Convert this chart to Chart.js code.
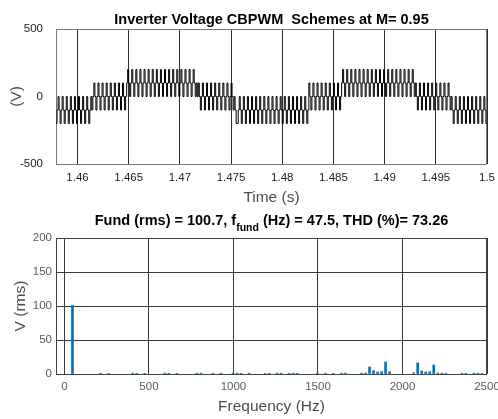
<!DOCTYPE html>
<html>
<head>
<meta charset="utf-8">
<script src="https://cdn.jsdelivr.net/npm/chart.js@4.4.0/dist/chart.umd.min.js"></script>
<style>
  html, body { margin: 0; padding: 0; background: #fff; }
  #wrap { position: relative; width: 498px; height: 419px; overflow: hidden; }
  .panel { position: absolute; left: 0; width: 498px; }
  #top { top: 0; height: 210px; }
  #bottom { top: 210px; height: 209px; }
</style>
</head>
<body>
<div id="wrap">
  <div class="panel" id="top"><canvas id="wave" width="498" height="210"></canvas></div>
  <div class="panel" id="bottom"><canvas id="fft" width="498" height="209"></canvas></div>
</div>
<script>
// ---- data ----
const timeTicks = [1.46, 1.465, 1.47, 1.475, 1.48, 1.485, 1.49, 1.495, 1.5];
const timeTickLabels = ['1.46', '1.465', '1.47', '1.475', '1.48', '1.485', '1.49', '1.495', '1.5'];
const voltTicks = [-500, 0, 500];

// inverter output levels, code 0..4
const levelVolts = [-200, -100, 0, 100, 200];
const tStart = 1.457895; // two fundamental cycles before 1.5 s
const tStep = 0.0001;    // one level code per 0.1 ms
const waveCodes = [
  '01210121012101210121' + '0121012101210121',                                   // 0 / -100 / -200
  '2',
  '32123212321232123212' + '32123212' + '321',                                   // +100 / 0 / -100
  '23',
  '43234323432343234323' + '43234323432343234323' + '43234323432343234323' + '43234323', // +200 / +100 / 0
  '2',
  '32123212321232123212' + '321232123212' + '32',
  '1210',
  '01210121012101210121' + '01210121012101210121' + '01210121012101210121' + '01210121' + '0',
  '1',
  '32123212321232123212' + '32123212' + '321',
  '23',
  '43234323432343234323' + '43234323432343234323' + '43234323432343234323' + '43234323' + '432',
  '3',
  '21232123212321232123' + '212321232123' + '21',
  '2',
  '10121012101210121012' + '101210121012' + '10'
];

const freqTicks = [0, 500, 1000, 1500, 2000, 2500];
const vrmsTicks = [0, 50, 100, 150, 200];
const harmFreq = [
  47.5,
  213.75, 261.25, 403.75, 427.5, 475, 593.75, 617.5, 665, 783.75, 807.5,
  878.75, 926.25, 997.5, 1021.25, 1045, 1092.5, 1187.5, 1211.25, 1258.75, 1282.5,
  1330, 1353.75, 1377.5, 1496.25, 1543.75, 1591.25, 1638.75, 1662.5, 1757.5,
  1781.25, 1805, 1828.75, 1852.5, 1876.25, 1900, 1923.75,
  2066.25, 2090, 2113.75, 2137.5, 2161.25, 2185, 2208.75,
  2232.5, 2256.25, 2351.25, 2375, 2422.5, 2446.25, 2470
];
const harmVrms = [
  100.7,
  1.2, 1.0, 1.3, 1.2, 1.0, 1.3, 1.2, 1.0, 1.2, 1.3,
  1.0, 1.2, 1.3, 1.2, 1.0, 1.2, 1.0, 1.2, 1.3, 1.2,
  1.0, 1.2, 1.0, 1.3, 1.2, 1.0, 1.2, 1.3, 1.2,
  1.5, 10.3, 4.9, 2.9, 3.4, 17.6, 3.4,
  1.8, 16.2, 4.4, 2.9, 3.4, 13.2, 1.5,
  1.2, 1.0, 1.2, 1.0, 1.3, 1.2, 1.0
];
const fundRms = '100.7';
const fundHz = '47.5';
const thdPct = '73.26';

// ---- helpers ----
const FONT = '"Liberation Sans", Arial, Helvetica, sans-serif';

const codes = waveCodes.join('');
const wavePoints = [];
for (let i = 0; i < codes.length; i++) {
  wavePoints.push({ x: tStart + i * tStep, y: levelVolts[+codes[i]] });
}
wavePoints.push({ x: 1.5, y: wavePoints[wavePoints.length - 1].y });

const harmPoints = harmFreq.map((f, i) => ({ x: f, y: harmVrms[i] }));

// box round the plot area, like a matlab axes
const plotBox = {
  id: 'plotBox',
  beforeDatasetsDraw(chart, args, opts) {
    const { ctx, chartArea: a } = chart;
    ctx.save();
    ctx.strokeStyle = opts.color;
    ctx.lineWidth = 1;
    ctx.strokeRect(a.left + 0.5, a.top + 0.5, a.right - a.left - 1, a.bottom - a.top);
    ctx.restore();
  }
};

// title drawn in pieces so a subscript can sit in it
const titleText = {
  id: 'titleText',
  afterDraw(chart, args, opts) {
    const { ctx, chartArea: a } = chart;
    ctx.save();
    ctx.fillStyle = '#000';
    ctx.textBaseline = 'alphabetic';
    let total = 0;
    opts.parts.forEach(p => {
      ctx.font = `bold ${p.size}px ${FONT}`;
      p.w = ctx.measureText(p.text).width;
      total += p.w;
    });
    let x = (a.left + a.right) / 2 - total / 2;
    opts.parts.forEach(p => {
      ctx.font = `bold ${p.size}px ${FONT}`;
      ctx.fillText(p.text, x, opts.y + (p.dy || 0));
      x += p.w;
    });
    ctx.restore();
  }
};

// ---- top: time waveform ----
new Chart(document.getElementById('wave'), {
  type: 'line',
  data: {
    datasets: [{
      data: wavePoints,
      borderColor: '#000',
      borderWidth: 1,
      pointRadius: 0,
      stepped: 'before',
      tension: 0,
      fill: false
    }]
  },
  options: {
    responsive: false,
    animation: false,
    events: [],
    layout: { padding: { top: 29, right: 11, left: 0, bottom: 0 } },
    plugins: {
      legend: { display: false },
      tooltip: { enabled: false },
      plotBox: { color: '#7a7a7a' },
      titleText: { y: 23.5, parts: [{ text: 'Inverter Voltage CBPWM  Schemes at M= 0.95', size: 14.5 }] }
    },
    scales: {
      x: {
        type: 'linear',
        min: tStart,
        max: 1.5,
        afterBuildTicks: s => { s.ticks = timeTicks.map(v => ({ value: v })); },
        afterFit: s => { s.height = 46; s.paddingLeft = 0; s.paddingRight = 0; },
        ticks: {
          callback: (v, i) => timeTickLabels[i],
          autoSkip: false, maxRotation: 0, padding: 7,
          color: '#222', font: { family: FONT, size: 11.5 }
        },
        grid: { color: '#2e2e2e', lineWidth: 1, drawTicks: false },
        border: { display: false },
        title: {
          display: true, text: 'Time (s)', color: '#4d4d4d',
          font: { family: FONT, size: 15.5 }, padding: { top: 0, bottom: 3 }
        }
      },
      y: {
        min: -500,
        max: 500,
        afterBuildTicks: s => { s.ticks = voltTicks.map(v => ({ value: v })); },
        afterFit: s => { s.width = 56; },
        ticks: { padding: 5, color: '#222', font: { family: FONT, size: 11.5 } },
        grid: { display: false },
        border: { display: false },
        title: {
          display: true, text: '(V)', color: '#4d4d4d',
          font: { family: FONT, size: 15.5 }, padding: { top: 7, bottom: 0 }
        }
      }
    }
  },
  plugins: [plotBox, titleText]
});

// ---- bottom: harmonic spectrum ----
new Chart(document.getElementById('fft'), {
  type: 'bar',
  data: {
    datasets: [{
      data: harmPoints,
      backgroundColor: '#0072BD',
      borderWidth: 0,
      barThickness: 2,
      grouped: false
    }]
  },
  options: {
    responsive: false,
    animation: false,
    events: [],
    layout: { padding: { top: 28, right: 11, left: 0, bottom: 0 } },
    plugins: {
      legend: { display: false },
      tooltip: { enabled: false },
      plotBox: { color: '#444' },
      titleText: {
        y: 14.5,
        parts: [
          { text: `Fund (rms) = ${fundRms}, f`, size: 14.5 },
          { text: 'fund', size: 10.5, dy: 6 },
          { text: ` (Hz) = ${fundHz}, THD (%)= ${thdPct}`, size: 14.5 }
        ]
      }
    },
    scales: {
      x: {
        type: 'linear',
        min: -50,
        max: 2500,
        offset: false,
        afterBuildTicks: s => { s.ticks = freqTicks.map(v => ({ value: v })); },
        afterFit: s => { s.height = 45; s.paddingLeft = 0; s.paddingRight = 0; },
        ticks: {
          callback: v => String(v),
          autoSkip: false, maxRotation: 0, padding: 6,
          color: '#5a5a5a', font: { family: FONT, size: 11.5 }
        },
        grid: { color: '#3a3a3a', lineWidth: 1, drawTicks: false, offset: false },
        border: { display: false },
        title: {
          display: true, text: 'Frequency (Hz)', color: '#4d4d4d',
          font: { family: FONT, size: 15.5 }, padding: { top: 0, bottom: 3 }
        }
      },
      y: {
        min: 0,
        max: 200,
        afterBuildTicks: s => { s.ticks = vrmsTicks.map(v => ({ value: v })); },
        afterFit: s => { s.width = 56; },
        ticks: { padding: 4, color: '#5a5a5a', font: { family: FONT, size: 11.5 } },
        grid: { color: '#3a3a3a', lineWidth: 1, drawTicks: false },
        border: { display: false },
        title: {
          display: true, text: 'V (rms)', color: '#4d4d4d',
          font: { family: FONT, size: 15.5 }, padding: { top: 11, bottom: 0 }
        }
      }
    }
  },
  plugins: [plotBox, titleText]
});
</script>
</body>
</html>
